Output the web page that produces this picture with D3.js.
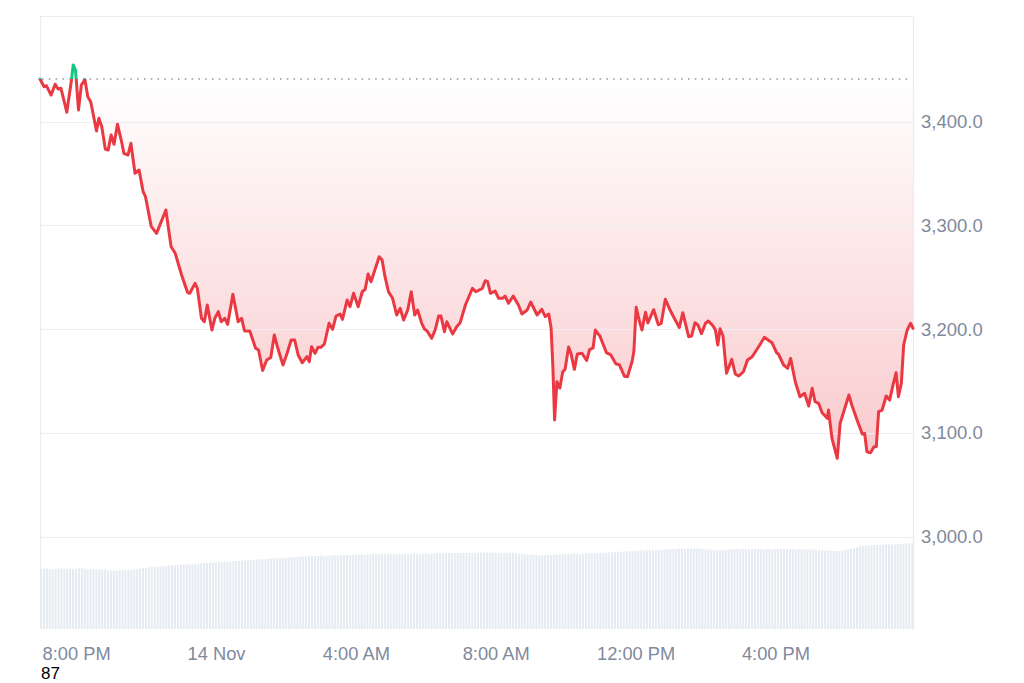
<!DOCTYPE html>
<html><head><meta charset="utf-8">
<script src="https://cdn.jsdelivr.net/npm/d3@7"></script>
<style>
html,body{margin:0;padding:0;background:#fff;}
svg{display:block;}
text{font-family:"Liberation Sans",Arial,Helvetica,sans-serif;}
</style></head><body>
<svg id="chart" width="1024" height="683"></svg>
<script>
// ---------- data ----------
const startTime = new Date(2024, 10, 13, 18, 58);   // first sample
const openPrice = 3441.2;                           // dotted reference line
// [minutes after start, price]
const priceSeries = [
[0,3441.2],[7,3433.7],[11,3434.7],[19,3425.7],[26,3436.1],[31,3431.5],[36,3432.2],[46,3409.1],[54,3440.2],[57,3454.7],
[61,3449.8],[66,3411.3],[71,3435.4],[77,3440.6],[82,3424.1],[87,3419.3],[97,3391.0],[101,3403.3],[106,3395.2],[112,3373.7],
[117,3372.7],[122,3387.2],[127,3378.2],[133,3397.5],[140,3380.7],[144,3369.5],[151,3367.9],[156,3379.2],[163,3350.3],[170,3353.4],
[177,3332.5],[181,3327.7],[191,3298.8],[200,3292.4],[216,3314.9],[225,3279.5],[232,3273.2],[243,3252.2],[253,3235.6],[257,3234.6],
[266,3244.2],[270,3239.4],[277,3210.5],[282,3207.2],[287,3223.3],[295,3199.2],[300,3210.5],[306,3216.9],[311,3207.2],[317,3210.5],
[322,3204.7],[331,3233.6],[340,3207.2],[346,3210.5],[351,3198.3],[360,3198.3],[370,3181.6],[375,3179.9],[382,3160.2],[389,3170.3],
[396,3172.7],[402,3194.4],[409,3179.9],[417,3165.5],[424,3176.8],[431,3189.6],[437,3189.6],[443,3175.1],[450,3167.7],[458,3173.5],
[462,3168.7],[466,3183.1],[472,3176.8],[477,3182.5],[482,3182.5],[488,3185.7],[496,3205.7],[502,3199.9],[508,3212.7],[515,3214.6],
[519,3209.5],[527,3228.1],[532,3221.7],[538,3234.6],[546,3221.7],[553,3236.1],[558,3238.5],[563,3253.2],[568,3245.8],[582,3269.9],
[587,3266.7],[592,3250.6],[598,3236.1],[605,3229.8],[612,3213.7],[618,3220.1],[624,3208.9],[631,3218.5],[637,3236.1],[643,3213.7],
[648,3218.5],[655,3205.7],[660,3199.9],[664,3198.5],[672,3191.2],[678,3199.2],[684,3212.7],[688,3212.7],[694,3197.6],[698,3207.2],
[708,3195.4],[715,3202.4],[721,3206.3],[730,3223.3],[742,3239.4],[748,3236.1],[759,3239.4],[764,3246.7],[768,3245.8],[773,3234.6],
[781,3236.8],[787,3229.8],[794,3229.8],[798,3232.0],[804,3225.0],[812,3232.0],[821,3223.3],[827,3214.6],[836,3218.5],[842,3226.2],
[853,3213.7],[861,3219.2],[867,3212.2],[873,3214.6],[877,3201.1],[880,3164.5],[883,3112.5],[887,3149.4],[892,3143.3],[897,3159.0],
[901,3161.3],[907,3182.8],[911,3176.8],[917,3161.3],[922,3176.1],[930,3176.8],[938,3169.8],[943,3180.4],[949,3181.9],[953,3199.2],
[961,3193.1],[972,3177.3],[979,3175.6],[988,3166.6],[994,3165.8],[1003,3154.6],[1008,3154.2],[1016,3168.9],[1019,3178.5],[1023,3221.1],
[1028,3208.9],[1033,3199.2],[1039,3216.4],[1043,3206.0],[1053,3218.8],[1061,3204.3],[1066,3205.7],[1073,3228.8],[1082,3217.5],[1087,3212.0],
[1097,3201.6],[1103,3215.9],[1113,3192.8],[1118,3193.4],[1124,3206.3],[1129,3204.0],[1135,3195.7],[1142,3205.7],[1147,3207.9],[1155,3203.1],
[1159,3199.2],[1163,3184.8],[1167,3200.4],[1172,3193.4],[1178,3157.5],[1187,3171.0],[1193,3156.8],[1199,3154.9],[1207,3159.0],[1214,3170.3],
[1222,3173.5],[1235,3184.8],[1243,3192.2],[1256,3187.0],[1264,3177.3],[1267,3176.1],[1276,3165.5],[1283,3162.3],[1288,3171.9],[1296,3149.4],
[1304,3134.9],[1312,3138.2],[1319,3126.0],[1325,3143.0],[1330,3130.1],[1336,3128.6],[1342,3119.5],[1351,3114.1],[1353,3122.1],[1359,3094.8],
[1368,3075.6],[1373,3109.3],[1388,3136.6],[1393,3126.9],[1402,3112.5],[1411,3099.0],[1415,3099.6],[1419,3081.9],[1425,3080.9],[1431,3086.7],
[1435,3086.7],[1439,3120.5],[1445,3122.1],[1452,3135.6],[1458,3131.7],[1463,3144.6],[1469,3158.1],[1473,3134.9],[1478,3147.8],[1482,3184.8],
[1488,3199.2],[1494,3205.7],[1498,3200.9]
];
// volume bars, one every 5 minutes from start (arbitrary units, B)
const volumeStepMinutes = 5;
const volumes = [
21.0,20.9,21.1,21.0,20.8,21.0,21.2,21.1,20.9,21.0,21.1,21.0,20.9,21.2,21.3,21.1,21.0,20.9,21.0,20.8,20.9,20.7,20.8,20.6,20.5,
20.4,20.3,20.4,20.5,20.4,20.6,20.7,
20.8,20.9,21.1,21.2,21.3,21.5,21.6,21.6,21.8,21.9,21.9,22.0,
22.1,22.2,22.2,22.3,22.4,22.4,22.5,22.6,22.6,22.7,22.8,22.9,
23.0,23.0,23.1,23.2,23.3,23.3,23.4,23.5,23.5,23.6,23.7,23.7,23.8,23.9,23.9,24.0,24.1,
24.1,24.2,24.3,24.4,24.4,24.5,24.6,24.7,24.7,24.8,24.9,24.9,25.0,25.1,25.1,25.2,25.3,
25.3,25.4,25.4,25.5,25.4,25.5,25.6,25.6,25.5,25.6,25.7,25.7,25.6,25.7,25.8,25.8,25.8,
25.9,25.8,25.9,26.0,25.9,26.0,26.0,26.1,26.0,26.0,26.1,26.1,26.0,26.1,26.2,26.1,26.1,
26.2,26.2,26.1,26.2,26.3,26.3,26.2,26.3,26.4,26.3,26.3,26.4,26.4,26.5,26.4,26.4,26.5,26.5,26.4,26.5,
26.6,26.5,26.5,26.6,26.6,26.5,26.6,26.6,26.7,26.6,26.6,26.7,26.6,26.5,26.6,26.6,26.5,26.6,26.6,
26.4,26.3,26.2,26.1,26.0,25.9,25.9,25.8,25.8,25.7,25.8,25.8,25.9,25.9,26.0,26.0,
26.1,26.1,26.2,26.2,26.3,26.3,26.2,26.3,26.4,26.4,26.5,26.4,26.5,26.5,
26.6,26.6,26.7,26.8,26.8,26.9,27.0,27.0,27.1,27.1,27.2,27.3,27.3,27.4,27.4,27.5,27.5,
27.6,27.6,27.7,27.7,27.8,27.8,27.9,27.9,28.0,28.0,28.1,28.0,28.1,28.1,28.0,28.1,28.0,
27.9,27.8,27.7,27.6,27.5,27.6,27.5,27.5,27.6,27.7,
27.8,27.8,27.9,27.9,28.0,27.9,27.8,27.9,27.9,28.0,27.9,27.8,27.9,27.9,27.8,27.9,28.0,27.9,27.9,27.8,
27.9,27.8,27.8,27.9,27.8,27.7,27.8,27.8,27.7,27.6,27.6,27.5,27.4,27.4,27.3,
27.2,27.2,27.1,27.3,27.5,27.7,27.9,
28.2,28.5,28.8,29.0,29.1,29.2,29.3,
29.3,29.4,29.3,29.4,29.5,29.5,29.6,29.5,29.6,29.7,29.8,29.8,29.9,30.0
];
const yTicks = [3000, 3100, 3200, 3300, 3400];
const xTickTimes = [
  new Date(2024,10,13,20,0), new Date(2024,10,14,0,0), new Date(2024,10,14,4,0),
  new Date(2024,10,14,8,0), new Date(2024,10,14,12,0), new Date(2024,10,14,16,0)
];
const xTickLabels = ["8:00 PM", "14 Nov", "4:00 AM", "8:00 AM", "12:00 PM", "4:00 PM"];
const footnote = "87";

// ---------- layout ----------
const W = 1024, H = 683;
const plotLeft = 40, plotRight = 913, plotTop = 16, plotBottom = 629;
const RED = "#ea3943", GREEN = "#16c784";
const MIN = 60000;

const svg = d3.select("#chart");
const pts = priceSeries.map(d => ({t: new Date(+startTime + d[0]*MIN), v: d[1]}));
const endTime = pts[pts.length-1].t;

const x = d3.scaleTime().domain([startTime, endTime]).range([plotLeft, plotRight]);
const y = d3.scaleLinear().domain([3000, 3400]).range([536.7, 121.7]);
const yVol = d3.scaleLinear().domain([0, 30]).range([plotBottom, 543]);
const yBase = y(openPrice);

const defs = svg.append("defs");
const gRed = defs.append("linearGradient").attr("id","gradRed")
  .attr("gradientUnits","userSpaceOnUse").attr("x1",0).attr("x2",0)
  .attr("y1", yBase).attr("y2", y(d3.min(pts, d=>d.v)));
gRed.append("stop").attr("offset","0%").attr("stop-color",RED).attr("stop-opacity",0.0);
gRed.append("stop").attr("offset","100%").attr("stop-color",RED).attr("stop-opacity",0.27);
const gGreen = defs.append("linearGradient").attr("id","gradGreen")
  .attr("gradientUnits","userSpaceOnUse").attr("x1",0).attr("x2",0)
  .attr("y1", yBase).attr("y2", y(d3.max(pts, d=>d.v)));
gGreen.append("stop").attr("offset","0%").attr("stop-color",GREEN).attr("stop-opacity",0.0);
gGreen.append("stop").attr("offset","100%").attr("stop-color",GREEN).attr("stop-opacity",0.25);

defs.append("clipPath").attr("id","clipAbove").append("rect")
  .attr("x", plotLeft-5).attr("y", 0).attr("width", plotRight-plotLeft+10).attr("height", yBase);
defs.append("clipPath").attr("id","clipBelow").append("rect")
  .attr("x", plotLeft-5).attr("y", yBase).attr("width", plotRight-plotLeft+10).attr("height", H-yBase);

// frame
const frame = svg.append("g").attr("stroke","#eaecef").attr("stroke-width",1.2).attr("fill","none");
frame.append("line").attr("x1",plotLeft).attr("x2",plotRight).attr("y1",plotTop+0.5).attr("y2",plotTop+0.5);
frame.append("line").attr("x1",plotLeft+0.5).attr("x2",plotLeft+0.5).attr("y1",plotTop).attr("y2",plotBottom);
frame.append("line").attr("x1",plotRight+0.5).attr("x2",plotRight+0.5).attr("y1",plotTop).attr("y2",plotBottom);

// volume bars
const pitch = x(new Date(+startTime + volumeStepMinutes*MIN)) - x(startTime);
svg.append("g").selectAll("rect").data(volumes).join("rect")
  .attr("x", (d,i) => x(new Date(+startTime + i*volumeStepMinutes*MIN)))
  .attr("width", Math.max(0.8, pitch - 0.9))
  .attr("y", d => yVol(d))
  .attr("height", d => plotBottom - yVol(d))
  .attr("fill", "#e6ebf1");

// fills
const area = d3.area().x(d=>x(d.t)).y0(yBase).y1(d=>y(d.v));
svg.append("path").datum(pts).attr("d", area).attr("fill","url(#gradRed)").attr("clip-path","url(#clipBelow)");
svg.append("path").datum(pts).attr("d", area).attr("fill","url(#gradGreen)").attr("clip-path","url(#clipAbove)");

// gridlines
svg.append("g").selectAll("line").data(yTicks).join("line")
  .attr("x1", plotLeft).attr("x2", plotRight)
  .attr("y1", d => Math.round(y(d))+0.5).attr("y2", d => Math.round(y(d))+0.5)
  .attr("stroke", "#eceef1").attr("stroke-width", 1.2);

// dotted opening line
svg.append("line").attr("x1", plotLeft+2).attr("x2", plotRight-3)
  .attr("y1", yBase).attr("y2", yBase)
  .attr("stroke", "#8f97a4").attr("stroke-width", 1.5).attr("stroke-dasharray", "1.5,5.3");

// price line
const line = d3.line().x(d=>x(d.t)).y(d=>y(d.v));
svg.append("path").datum(pts).attr("d", line).attr("fill","none").attr("stroke",RED)
  .attr("stroke-width",3).attr("stroke-linejoin","round").attr("stroke-linecap","round")
  .attr("clip-path","url(#clipBelow)");
svg.append("path").datum(pts).attr("d", line).attr("fill","none").attr("stroke",GREEN)
  .attr("stroke-width",3).attr("stroke-linejoin","round").attr("stroke-linecap","round")
  .attr("clip-path","url(#clipAbove)");

// axes
const xAxis = d3.axisBottom(x).tickValues(xTickTimes)
  .tickFormat((d,i) => xTickLabels[i]).tickSize(0).tickPadding(18.3);
const gx = svg.append("g").attr("transform", `translate(0,${plotBottom})`).call(xAxis);
gx.select(".domain").remove();
gx.selectAll("text").attr("fill","#808a9d").style("font-size","18.3px")
  .style("font-family",'"Liberation Sans",Arial,sans-serif');

const yAxis = d3.axisRight(y).tickValues(yTicks).tickFormat(d3.format(",.1f")).tickSize(0).tickPadding(8);
const gy = svg.append("g").attr("transform", `translate(${plotRight},0)`).call(yAxis);
gy.select(".domain").remove();
gy.selectAll("text").attr("fill","#808a9d").style("font-size","18.5px")
  .style("font-family",'"Liberation Sans",Arial,sans-serif');

// stray footnote
svg.append("text").attr("x", 41).attr("y", 679.4).text(footnote)
  .attr("fill","#000").style("font-size","17px");
</script>
</body></html>
